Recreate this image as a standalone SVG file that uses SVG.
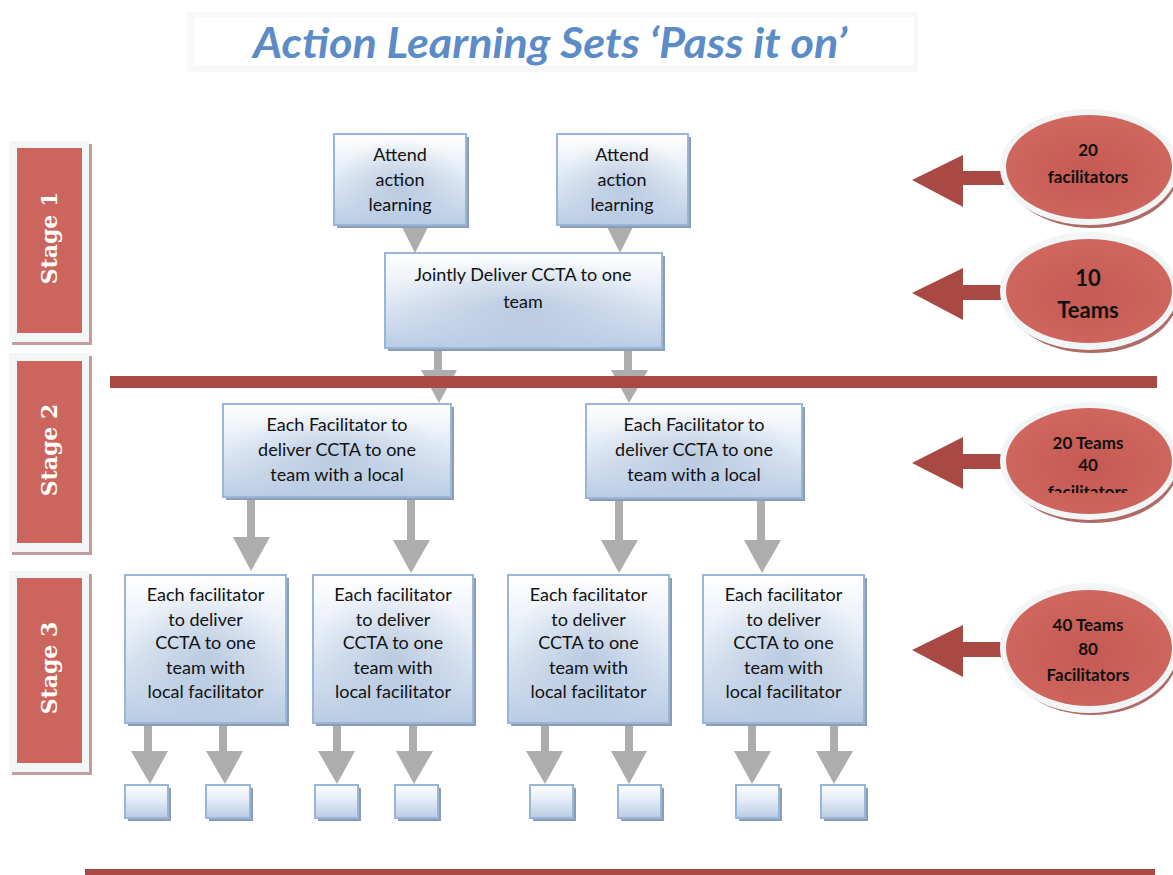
<svg xmlns="http://www.w3.org/2000/svg" width="1173" height="875" viewBox="0 0 1173 875">
  <defs>
    <linearGradient id="boxFill" x1="0" y1="0" x2="0" y2="1">
      <stop offset="0" stop-color="#ffffff"/>
      <stop offset="0.45" stop-color="#e3ebf5"/>
      <stop offset="1" stop-color="#b9cce4"/>
    </linearGradient>
    <radialGradient id="boxGlow" cx="0.5" cy="0.55" r="0.5">
      <stop offset="0" stop-color="#9fb6d3" stop-opacity="0.55"/>
      <stop offset="1" stop-color="#9fb6d3" stop-opacity="0"/>
    </radialGradient>
    <radialGradient id="ovalFill" cx="0.5" cy="0.55" r="0.55">
      <stop offset="0" stop-color="#c45a53"/>
      <stop offset="1" stop-color="#d0675f"/>
    </radialGradient>
    <clipPath id="clipOval3">
      <rect x="1000" y="400" width="173" height="93"/>
    </clipPath>
    <style>
      .box { fill: url(#boxFill); stroke: #98b6da; stroke-width: 2; }
      .glow { fill: url(#boxGlow); }
      .shadow { fill: #8d9cb1; }
      .txt { font-family: Lato, "Liberation Sans", sans-serif; font-size: 18px; fill: #111; text-anchor: middle; }
      .grey { fill: #adadad; }
      .dark { fill: #a84a43; }
      .frame { fill: #f3f6f6; }
      .frameShadow { fill: #c39c9b; }
      .stageRed { fill: #cc655d; }
      .stageTxt { font-family: "DejaVu Serif", "Liberation Serif", serif; font-weight: bold; font-size: 22px; fill: #ffffff; text-anchor: middle; }
      .ovalRing { fill: #f2f5f5; }
      .ovalShadow { fill: #b06a65; }
      .oval { fill: url(#ovalFill); }
      .ovalTxt { font-family: Lato, "Liberation Sans", sans-serif; font-weight: bold; font-size: 17px; fill: #111; text-anchor: middle; }
      .ovalBig { font-size: 22px; }
    </style>
  </defs>

  <rect width="1173" height="875" fill="#ffffff"/>

  <!-- heading -->
  <g id="title">
    <rect x="186" y="12" width="732" height="60" fill="#f7f8f8"/>
    <rect x="194" y="17" width="720" height="48" fill="#ffffff"/>
    <text x="550" y="58" font-family="Lato, 'Liberation Sans', sans-serif" font-size="42" font-weight="bold" font-style="italic" fill="#5b8cc8" text-anchor="middle" textLength="594" lengthAdjust="spacingAndGlyphs">Action Learning Sets ‘Pass it on’</text>
  </g>

  <!-- stage labels -->
  <g id="stage1">
    <rect class="frameShadow" x="12" y="144" width="80" height="201"/>
    <rect class="frame" x="9" y="141" width="80" height="201"/>
    <rect class="stageRed" x="17" y="148" width="65" height="185"/>
    <text class="stageTxt" transform="translate(57 238) rotate(-90)">Stage 1</text>
  </g>
  <g id="stage2">
    <rect class="frameShadow" x="12" y="356" width="80" height="199"/>
    <rect class="frame" x="9" y="353" width="80" height="199"/>
    <rect class="stageRed" x="17" y="361" width="65" height="182"/>
    <text class="stageTxt" transform="translate(57 450) rotate(-90)">Stage 2</text>
  </g>
  <g id="stage3">
    <rect class="frameShadow" x="12" y="574" width="80" height="201"/>
    <rect class="frame" x="9" y="571" width="80" height="201"/>
    <rect class="stageRed" x="17" y="578" width="65" height="185"/>
    <text class="stageTxt" transform="translate(57 668) rotate(-90)">Stage 3</text>
  </g>

  <!-- connectors -->
  <g id="connectors">
    <!-- stage 1 -->
    <polygon class="grey" points="402,227 428,227 415,253"/>
    <polygon class="grey" points="607,227 633,227 620,253"/>
    <rect class="grey" x="434" y="349" width="8" height="22"/>
    <polygon class="grey" points="421,370 457,370 439,403"/>
    <rect class="grey" x="624" y="349" width="8" height="22"/>
    <polygon class="grey" points="611,370 648,370 629,403"/>
    <!-- stage 2 to stage 3 -->
    <rect class="grey" x="247" y="498" width="8" height="40"/>
    <polygon class="grey" points="233,537 270,537 251,571"/>
    <rect class="grey" x="407" y="498" width="8" height="43"/>
    <polygon class="grey" points="393,540 430,540 411,573"/>
    <rect class="grey" x="615" y="498" width="8" height="43"/>
    <polygon class="grey" points="601,540 638,540 619,573"/>
    <rect class="grey" x="757" y="498" width="8" height="43"/>
    <polygon class="grey" points="744,540 781,540 762,573"/>
    <!-- stage 3 to teams -->
    <rect class="grey" x="144" y="724" width="8" height="28"/>
    <polygon class="grey" points="131,751 168,751 150,784"/>
    <rect class="grey" x="219" y="724" width="8" height="28"/>
    <polygon class="grey" points="206,751 243,751 225,784"/>
    <rect class="grey" x="333" y="724" width="8" height="28"/>
    <polygon class="grey" points="318,751 355,751 337,784"/>
    <rect class="grey" x="409" y="724" width="8" height="28"/>
    <polygon class="grey" points="396,751 433,751 414,784"/>
    <rect class="grey" x="541" y="724" width="8" height="28"/>
    <polygon class="grey" points="526,751 563,751 545,784"/>
    <rect class="grey" x="625" y="724" width="8" height="28"/>
    <polygon class="grey" points="611,751 647,751 629,784"/>
    <rect class="grey" x="748" y="724" width="8" height="28"/>
    <polygon class="grey" points="734,751 771,751 752,784"/>
    <rect class="grey" x="830" y="724" width="8" height="28"/>
    <polygon class="grey" points="816,751 853,751 834,784"/>
    <!-- stage dividers -->
    <rect class="dark" x="110" y="376" width="1047" height="12"/>
    <rect class="dark" x="85" y="869" width="1070" height="6"/>
    <!-- count arrows -->
    <polygon class="dark" points="912,180 963,155 963,171 1010,171 1010,185 963,185 963,207"/>
    <polygon class="dark" points="912,293 963,268 963,285 1010,285 1010,300 963,300 963,320"/>
    <polygon class="dark" points="912,463 963,437 963,454 1010,454 1010,469 963,469 963,489"/>
    <polygon class="dark" points="912,650 963,625 963,642 1010,642 1010,657 963,657 963,677"/>
  </g>

  <!-- stage 1 boxes -->
  <g id="attend1">
    <rect class="shadow" x="337" y="137" width="132" height="91"/>
    <rect class="box" x="334" y="134" width="132" height="91"/>
    <rect class="glow" x="334" y="134" width="132" height="91"/>
    <text class="txt" x="400" y="161">Attend</text>
    <text class="txt" x="400" y="186">action</text>
    <text class="txt" x="400" y="211">learning</text>
  </g>
  <g id="attend2">
    <rect class="shadow" x="560" y="137" width="131" height="91"/>
    <rect class="box" x="557" y="134" width="131" height="91"/>
    <rect class="glow" x="557" y="134" width="131" height="91"/>
    <text class="txt" x="622" y="161">Attend</text>
    <text class="txt" x="622" y="186">action</text>
    <text class="txt" x="622" y="211">learning</text>
  </g>
  <g id="joint">
    <rect class="shadow" x="388" y="256" width="277" height="95"/>
    <rect class="box" x="385" y="253" width="277" height="95"/>
    <rect class="glow" x="385" y="253" width="277" height="95"/>
    <text class="txt" x="523" y="281">Jointly Deliver CCTA to one</text>
    <text class="txt" x="523" y="308">team</text>
  </g>

  <!-- stage 2 boxes -->
  <g id="facilitatorA">
    <rect class="shadow" x="226" y="407" width="228" height="93"/>
    <rect class="box" x="223" y="404" width="228" height="93"/>
    <rect class="glow" x="223" y="404" width="228" height="93"/>
    <text class="txt" x="337" y="431">Each Facilitator to</text>
    <text class="txt" x="337" y="456">deliver CCTA to one</text>
    <text class="txt" x="337" y="481">team with a local</text>
  </g>
  <g id="facilitatorB">
    <rect class="shadow" x="589" y="407" width="216" height="94"/>
    <rect class="box" x="586" y="404" width="216" height="94"/>
    <rect class="glow" x="586" y="404" width="216" height="94"/>
    <text class="txt" x="694" y="431">Each Facilitator to</text>
    <text class="txt" x="694" y="456">deliver CCTA to one</text>
    <text class="txt" x="694" y="481">team with a local</text>
  </g>

  <!-- stage 3 boxes -->
  <g id="local1">
    <rect class="shadow" x="128" y="578" width="161" height="148"/>
    <rect class="box" x="125" y="575" width="161" height="148"/>
    <rect class="glow" x="125" y="575" width="161" height="148"/>
    <text class="txt" x="205.5" y="601">Each facilitator</text>
    <text class="txt" x="205.5" y="626">to deliver</text>
    <text class="txt" x="205.5" y="649">CCTA to one</text>
    <text class="txt" x="205.5" y="674">team with</text>
    <text class="txt" x="205.5" y="698">local facilitator</text>
  </g>
  <g id="local2">
    <rect class="shadow" x="316" y="578" width="160" height="148"/>
    <rect class="box" x="313" y="575" width="160" height="148"/>
    <rect class="glow" x="313" y="575" width="160" height="148"/>
    <text class="txt" x="393" y="601">Each facilitator</text>
    <text class="txt" x="393" y="626">to deliver</text>
    <text class="txt" x="393" y="649">CCTA to one</text>
    <text class="txt" x="393" y="674">team with</text>
    <text class="txt" x="393" y="698">local facilitator</text>
  </g>
  <g id="local3">
    <rect class="shadow" x="511" y="578" width="161" height="148"/>
    <rect class="box" x="508" y="575" width="161" height="148"/>
    <rect class="glow" x="508" y="575" width="161" height="148"/>
    <text class="txt" x="588.5" y="601">Each facilitator</text>
    <text class="txt" x="588.5" y="626">to deliver</text>
    <text class="txt" x="588.5" y="649">CCTA to one</text>
    <text class="txt" x="588.5" y="674">team with</text>
    <text class="txt" x="588.5" y="698">local facilitator</text>
  </g>
  <g id="local4">
    <rect class="shadow" x="706" y="578" width="161" height="148"/>
    <rect class="box" x="703" y="575" width="161" height="148"/>
    <rect class="glow" x="703" y="575" width="161" height="148"/>
    <text class="txt" x="783.5" y="601">Each facilitator</text>
    <text class="txt" x="783.5" y="626">to deliver</text>
    <text class="txt" x="783.5" y="649">CCTA to one</text>
    <text class="txt" x="783.5" y="674">team with</text>
    <text class="txt" x="783.5" y="698">local facilitator</text>
  </g>

  <!-- team boxes -->
  <g id="team1"><rect class="shadow" x="128" y="788" width="43" height="33"/><rect class="box" x="125" y="785" width="43" height="33"/></g>
  <g id="team2"><rect class="shadow" x="209" y="788" width="44" height="33"/><rect class="box" x="206" y="785" width="44" height="33"/></g>
  <g id="team3"><rect class="shadow" x="318" y="788" width="43" height="33"/><rect class="box" x="315" y="785" width="43" height="33"/></g>
  <g id="team4"><rect class="shadow" x="398" y="788" width="43" height="33"/><rect class="box" x="395" y="785" width="43" height="33"/></g>
  <g id="team5"><rect class="shadow" x="533" y="788" width="43" height="33"/><rect class="box" x="530" y="785" width="43" height="33"/></g>
  <g id="team6"><rect class="shadow" x="621" y="788" width="43" height="33"/><rect class="box" x="618" y="785" width="43" height="33"/></g>
  <g id="team7"><rect class="shadow" x="739" y="788" width="43" height="33"/><rect class="box" x="736" y="785" width="43" height="33"/></g>
  <g id="team8"><rect class="shadow" x="824" y="788" width="44" height="33"/><rect class="box" x="821" y="785" width="44" height="33"/></g>

  <!-- count ovals -->
  <g id="count1">
    <ellipse class="ovalShadow" cx="1092" cy="172" rx="86" ry="56"/>
    <ellipse class="ovalRing" cx="1089" cy="167" rx="89" ry="58"/>
    <ellipse class="oval" cx="1089" cy="167" rx="83" ry="52"/>
    <text class="ovalTxt" x="1088" y="156">20</text>
    <text class="ovalTxt" x="1088" y="183">facilitators</text>
  </g>
  <g id="count2">
    <ellipse class="ovalShadow" cx="1092" cy="296" rx="86" ry="57"/>
    <ellipse class="ovalRing" cx="1089" cy="291" rx="89" ry="59"/>
    <ellipse class="oval" cx="1089" cy="291" rx="83" ry="52"/>
    <text class="ovalTxt ovalBig" x="1088" y="286">10</text>
    <text class="ovalTxt ovalBig" x="1088" y="318">Teams</text>
  </g>
  <g id="count3">
    <ellipse class="ovalShadow" cx="1092" cy="466" rx="86" ry="57"/>
    <ellipse class="ovalRing" cx="1089" cy="461" rx="89" ry="59"/>
    <ellipse class="oval" cx="1089" cy="461" rx="83" ry="53"/>
    <g clip-path="url(#clipOval3)">
      <text class="ovalTxt" x="1088" y="449">20 Teams</text>
      <text class="ovalTxt" x="1088" y="471">40</text>
      <text class="ovalTxt" x="1088" y="498">facilitators</text>
    </g>
  </g>
  <g id="count4">
    <ellipse class="ovalShadow" cx="1092" cy="653" rx="86" ry="62"/>
    <ellipse class="ovalRing" cx="1089" cy="648" rx="89" ry="65"/>
    <ellipse class="oval" cx="1089" cy="648" rx="83" ry="58"/>
    <text class="ovalTxt" x="1088" y="631">40 Teams</text>
    <text class="ovalTxt" x="1088" y="655">80</text>
    <text class="ovalTxt" x="1088" y="681">Facilitators</text>
  </g>
</svg>
